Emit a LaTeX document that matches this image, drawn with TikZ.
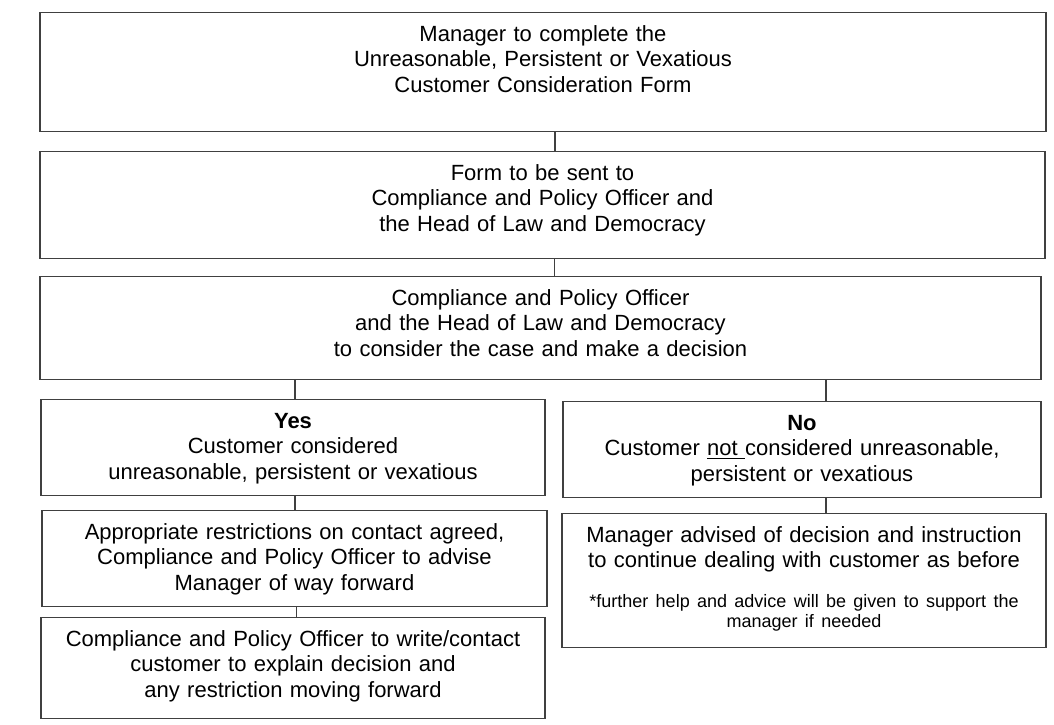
\documentclass[tikz,border=0pt]{standalone}
\usepackage{fontspec}
\setmainfont{Liberation Sans}
\usetikzlibrary{positioning, calc}
\definecolor{boxline}{RGB}{64,64,64}

\begin{document}
\begin{tikzpicture}[x=0.5pt, y=-0.5pt,
    every node/.style={font=\fontsize{11}{12.6}\selectfont},
    stage/.style={draw=boxline, line width=0.6pt, align=center, anchor=north,
                  inner xsep=0pt, inner ysep=6.5pt, text height=8pt},
    link/.style={draw=boxline, line width=0.6pt}]
  \useasboundingbox[fill=white] (0,0) rectangle (1054,724);

  % main column
  \node[stage, text width=503pt, text depth=38.5pt] (form) at (543,12)
    {Manager to complete the\\Unreasonable, Persistent or Vexatious\\Customer Consideration Form};
  \node[stage, text width=502.5pt, text depth=32.5pt] (send) at (542.5,151)
    {Form to be sent to\\Compliance and Policy Officer and\\the Head of Law and Democracy};
  \node[stage, text width=500.5pt, text depth=30.5pt] (decide) at (540.5,276)
    {Compliance and Policy Officer\\and the Head of Law and Democracy\\to consider the case and make a decision};

  % yes branch
  \node[stage, text width=252pt, text depth=27pt] (yes) at (293,399)
    {\textbf{Yes}\\Customer considered\\unreasonable, persistent or vexatious};
  \node[stage, text width=252.5pt, text depth=27pt] (restrict) at (294.5,510)
    {Appropriate restrictions on contact agreed,\\Compliance and Policy Officer to advise\\Manager of way forward};
  \node[stage, text width=252pt, text depth=29.5pt] (write) at (293,617)
    {Compliance and Policy Officer to write/contact\\customer to explain decision and\\any restriction moving forward};

  % no branch
  \node[stage, text width=239pt, text depth=27pt] (no) at (802,401)
    {\textbf{No}\\Customer \underline{not }considered unreasonable,\\persistent or vexatious};
  \node[stage, text width=242pt, text depth=46pt] (advise) at (804,513)
    {Manager advised of decision and instruction\\to continue dealing with customer as before\par
     \vspace{7pt}\parbox[t]{242pt}{\centering\fontsize{9}{10.4}\selectfont
     *further help and advice will be given to support the\\manager if needed}};

  \draw[link] ([xshift=6pt]form.south) -- ([xshift=6pt]form.south |- send.north);
  \draw[link] ([xshift=6pt]send.south) -- ([xshift=6pt]send.south |- decide.north);
  \draw[link] ([xshift=1pt]yes.north) -- ([xshift=1pt]yes.north |- decide.south);
  \draw[link] ([xshift=12pt]no.north) -- ([xshift=12pt]no.north |- decide.south);
  \draw[link] ([xshift=1pt]yes.south) -- ([xshift=1pt]yes.south |- restrict.north);
  \draw[link] ([xshift=1pt]restrict.south) -- ([xshift=1pt]restrict.south |- write.north);
  \draw[link] ([xshift=12pt]no.south) -- ([xshift=12pt]no.south |- advise.north);
\end{tikzpicture}
\end{document}
